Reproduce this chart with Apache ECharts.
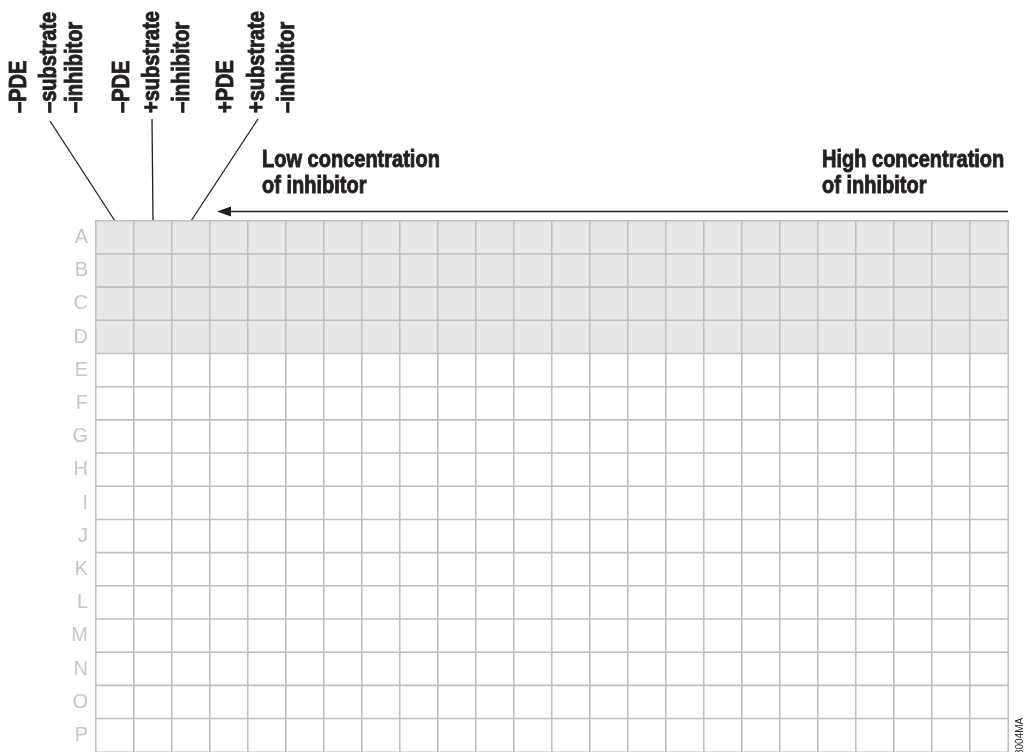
<!DOCTYPE html>
<html>
<head>
<meta charset="utf-8">
<script src="https://cdn.jsdelivr.net/npm/echarts@6/dist/echarts.min.js"></script>
<style>
  html, body { margin: 0; padding: 0; background: #fff; }
  #chart { width: 1027px; height: 752px; }
</style>
</head>
<body>
<div id="chart"></div>
<script>
// plate layout
const rows = ['A', 'B', 'C', 'D', 'E', 'F', 'G', 'H', 'I', 'J', 'K', 'L', 'M', 'N', 'O', 'P']
const columns = ['1', '2', '3', '4', '5', '6', '7', '8', '9', '10', '11', '12',
  '13', '14', '15', '16', '17', '18', '19', '20', '21', '22', '23', '24']
const shadedRows = ['A', 'B', 'C', 'D']

// control wells and their labels
const controlColumns = ['1', '2', '3']
const controlLabels = [
  ['\u2013PDE', '\u2013substrate', '\u2013inhibitor'],
  ['\u2013PDE', '+substrate', '\u2013inhibitor'],
  ['+PDE', '+substrate', '\u2013inhibitor']
]
const lowLabel = 'Low concentration\nof inhibitor'
const highLabel = 'High concentration\nof inhibitor'

const cells = []
rows.forEach((r, ri) => {
  columns.forEach((c, ci) => {
    cells.push([ci, ri, shadedRows.indexOf(r) >= 0 ? 1 : 0])
  })
})

const chart = echarts.init(document.getElementById('chart'))
// heavy condensed look: bold + thin outline, squeezed horizontally
const labelStyle = {
  fill: '#231f20',
  stroke: '#231f20',
  lineWidth: 0.9,
  fontSize: 23,
  fontWeight: 'bold',
  fontFamily: '"Liberation Sans", Arial, sans-serif'
}
const squeeze = 0.87

const option = {
  backgroundColor: '#fff',
  animation: false,
  grid: { left: 96, top: 221, width: 912, height: 534, containLabel: false },
  xAxis: {
    type: 'category',
    data: columns,
    position: 'top',
    axisLine: { show: false },
    axisTick: { show: false },
    axisLabel: { show: false },
    splitLine: { show: false }
  },
  yAxis: {
    type: 'category',
    data: rows,
    inverse: true,
    axisLine: { show: false },
    axisTick: { show: false },
    splitLine: { show: false },
    axisLabel: {
      color: '#c4c6c8',
      fontSize: 20,
      fontFamily: '"Liberation Sans", Arial, sans-serif',
      margin: 8
    }
  },
  visualMap: {
    show: false,
    type: 'piecewise',
    dimension: 2,
    pieces: [
      { value: 0, color: '#ffffff' },
      { value: 1, color: '#e6e7e8' }
    ]
  },
  series: [{
    type: 'heatmap',
    data: cells,
    itemStyle: { borderColor: '#bcbec0', borderWidth: 1.6 },
    emphasis: { disabled: true }
  }]
}
chart.setOption(option)

// annotations
const graphics = []
const labelBottom = 113
const groupX = [[20, 50, 76], [123, 153, 183], [227, 258, 288]]
const leaderTop = [[50, 121], [152, 119], [258, 119]]
controlLabels.forEach((lines, gi) => {
  lines.forEach((t, li) => {
    graphics.push({
      type: 'text',
      x: groupX[gi][li],
      y: labelBottom,
      rotation: Math.PI / 2,
      scaleX: squeeze,
      style: Object.assign({ text: t, align: 'left', verticalAlign: 'middle' }, labelStyle)
    })
  })
  const end = chart.convertToPixel({ gridIndex: 0 }, [controlColumns[gi], rows[0]])
  graphics.push({
    type: 'line',
    shape: { x1: leaderTop[gi][0], y1: leaderTop[gi][1], x2: end[0], y2: 221 },
    style: { stroke: '#231f20', lineWidth: 1.3 }
  })
})

// arrow from high to low concentration
const rightEdge = 96 + 912
graphics.push({
  type: 'line',
  shape: { x1: rightEdge, y1: 211.5, x2: 228, y2: 211.5 },
  style: { stroke: '#231f20', lineWidth: 1.3 }
})
graphics.push({
  type: 'polygon',
  shape: { points: [[217, 211.5], [231, 206.5], [231, 216.5]] },
  style: { fill: '#231f20' }
})
graphics.push({
  type: 'text', x: 262, y: 148, scaleX: squeeze,
  style: Object.assign({ text: lowLabel, lineHeight: 26 }, labelStyle)
})
graphics.push({
  type: 'text', x: 822, y: 148, scaleX: squeeze,
  style: Object.assign({ text: highLabel, lineHeight: 26 }, labelStyle)
})
graphics.push({
  type: 'text', x: 1020, y: 755,
  rotation: Math.PI / 2,
  style: {
    text: '3004MA', fill: '#231f20',
    fontSize: 10,
    fontFamily: '"Liberation Sans", Arial, sans-serif',
    align: 'left', verticalAlign: 'middle'
  }
})
chart.setOption({ graphic: graphics })
</script>
</body>
</html>
